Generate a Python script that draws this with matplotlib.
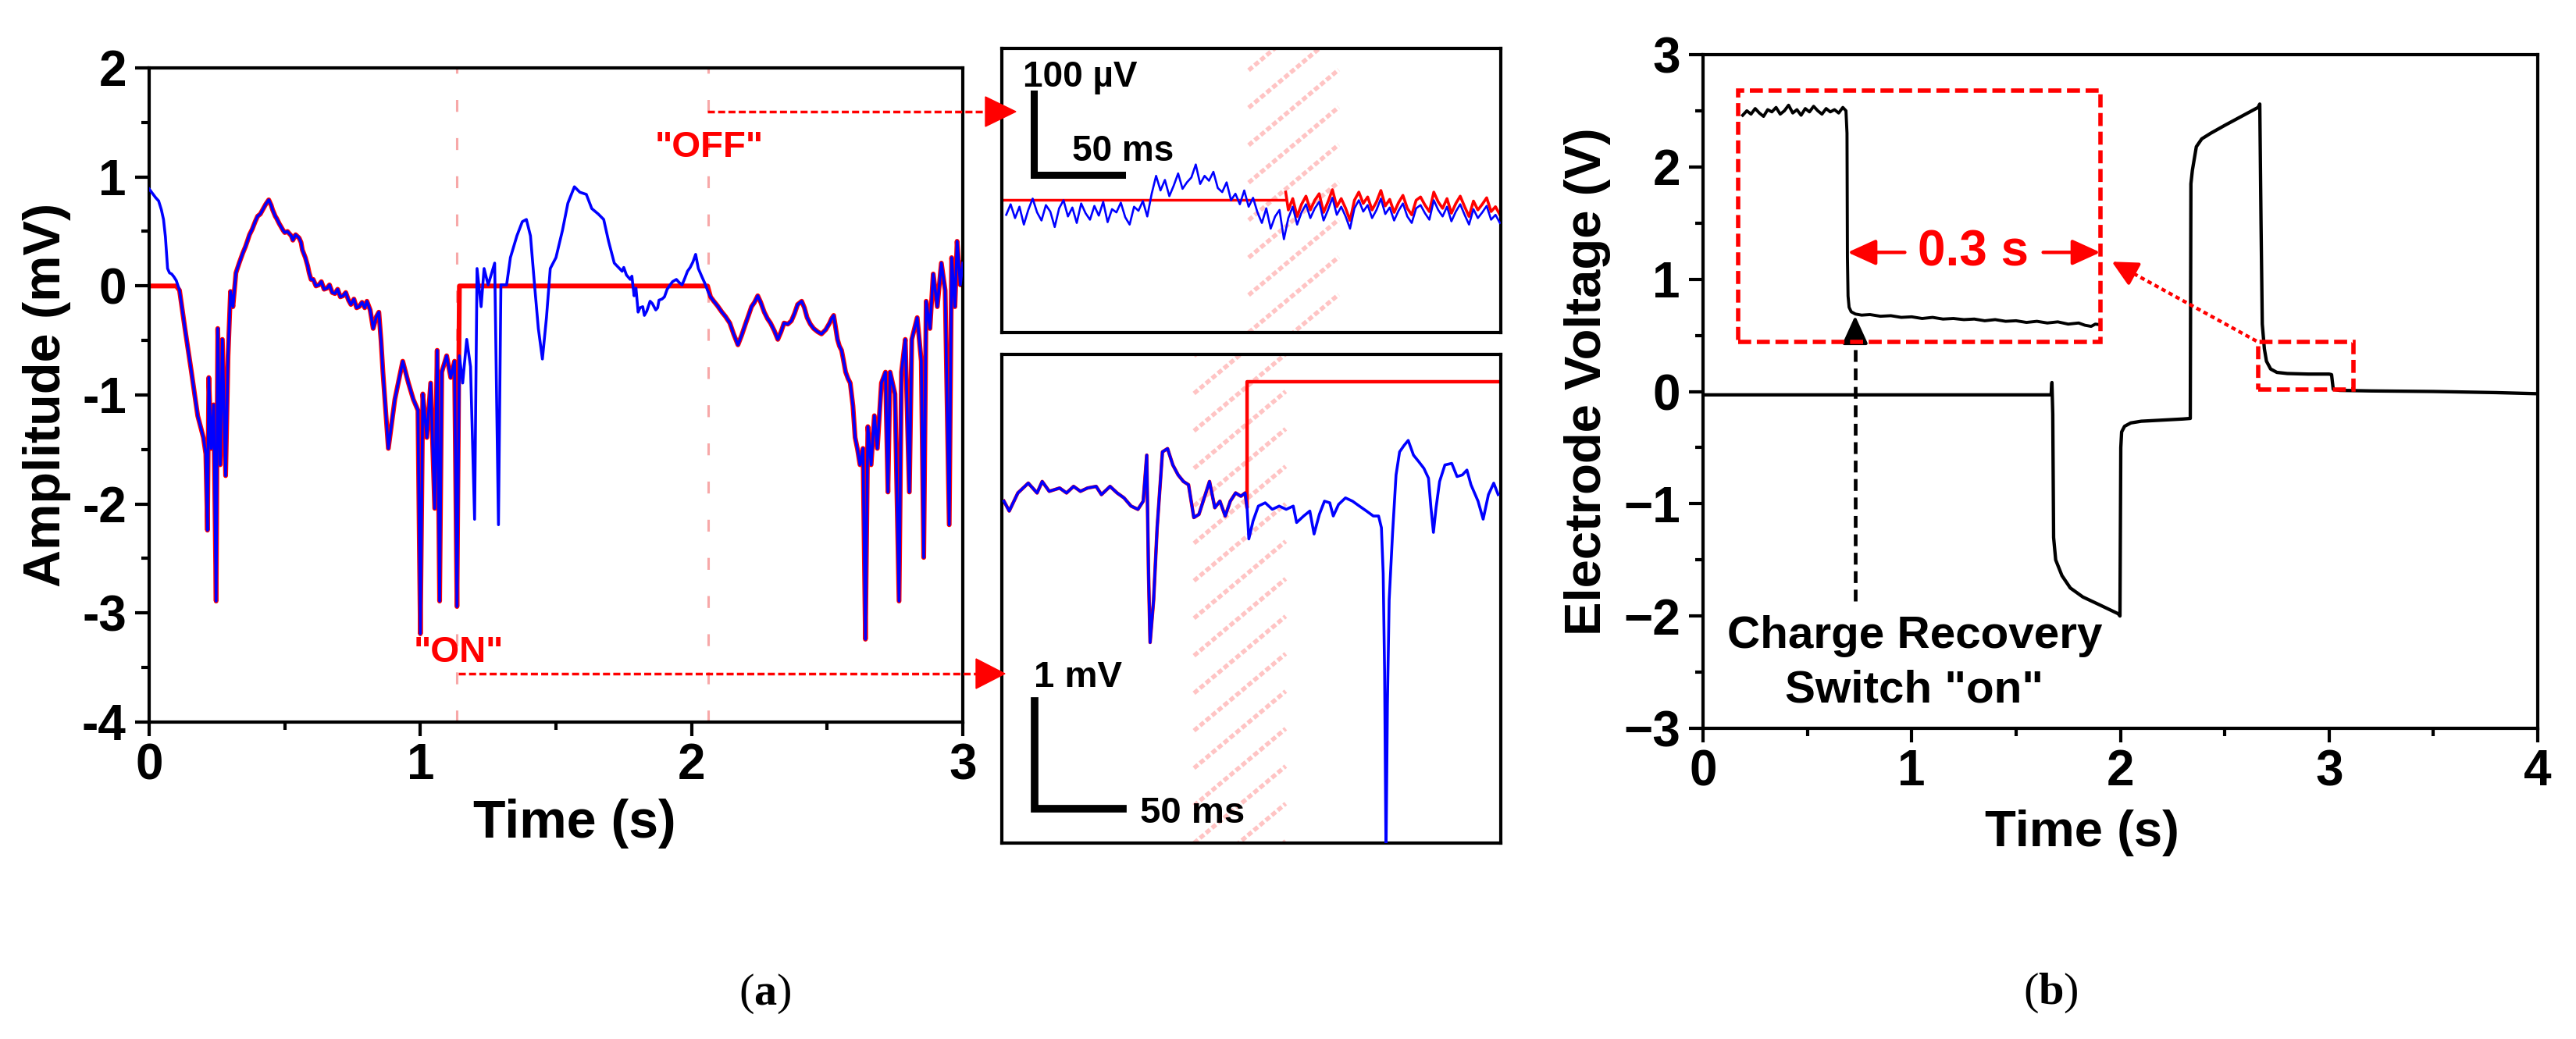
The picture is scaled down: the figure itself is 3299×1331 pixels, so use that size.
import numpy as np
import matplotlib
matplotlib.use("Agg")
import matplotlib.pyplot as plt
from matplotlib.lines import Line2D
from matplotlib.patches import Polygon, Rectangle
from matplotlib.ticker import MultipleLocator

plt.rcParams['font.family'] = ['Liberation Sans', 'DejaVu Sans']
plt.rcParams['font.weight'] = 'bold'
plt.rcParams['axes.unicode_minus'] = False
plt.rcParams['mathtext.fontset'] = 'custom'
plt.rcParams['mathtext.rm'] = 'Liberation Serif'
plt.rcParams['mathtext.bf'] = 'Liberation Serif:bold'

#%% data, panel (a) main trace (s, mV)
a_t = [0.0, 0.024, 0.053, 0.068, 0.091, 0.112, 0.132, 0.156, 0.179, 0.2,
       0.209, 0.215, 0.22, 0.229, 0.238, 0.247, 0.253, 0.262, 0.27, 0.282,
       0.291, 0.309, 0.332, 0.362, 0.391, 0.421, 0.441, 0.465, 0.494, 0.524,
       0.553, 0.576, 0.597, 0.626, 0.656, 0.685, 0.715, 0.744, 0.774, 0.803,
       0.826, 0.847, 0.862, 0.882, 0.906, 0.935, 0.956, 0.974, 0.991, 1.0,
       1.009, 1.024, 1.038, 1.053, 1.062, 1.071, 1.079, 1.097, 1.112, 1.126,
       1.135, 1.144, 1.156, 1.171, 1.185, 1.2, 1.209, 1.224, 1.235, 1.25,
       1.274, 1.288, 1.297, 1.318, 1.332, 1.356, 1.376, 1.391, 1.406, 1.421,
       1.435, 1.45, 1.465, 1.479, 1.5, 1.524, 1.544, 1.568, 1.588, 1.612,
       1.632, 1.656, 1.676, 1.694, 1.715, 1.744, 1.774, 1.788, 1.803, 1.826,
       1.847, 1.868, 1.891, 1.921, 1.944, 1.965, 1.985, 2.015, 2.038, 2.059,
       2.082, 2.112, 2.141, 2.171, 2.2, 2.221, 2.244, 2.268, 2.291, 2.318,
       2.341, 2.368, 2.391, 2.406, 2.426, 2.45, 2.479, 2.509, 2.524, 2.538,
       2.553, 2.568, 2.585, 2.603, 2.621, 2.632, 2.641, 2.65, 2.662, 2.674,
       2.685, 2.7, 2.715, 2.724, 2.732, 2.75, 2.765, 2.774, 2.788, 2.803,
       2.812, 2.832, 2.847, 2.856, 2.865, 2.879, 2.891, 2.906, 2.921, 2.935,
       2.95, 2.959, 2.971, 2.979, 2.991, 3.0]
a_v = [0.89, 0.81, 0.61, 0.16, 0.085, -0.04, -0.39, -0.79, -1.19, -1.39,
       -1.54, -2.24, -0.84, -1.49, -1.09, -2.89, -0.39, -1.64, -0.49, -1.74,
       -0.64, -0.19, 0.21, 0.41, 0.59, 0.71, 0.79, 0.64, 0.51, 0.46,
       0.44, 0.26, 0.06, 0.01, -0.02, -0.07, -0.09, -0.17, -0.19, -0.14,
       -0.39, -0.24, -0.79, -1.49, -1.04, -0.69, -0.89, -1.04, -1.14, -3.19,
       -0.99, -1.39, -0.89, -2.04, -0.59, -2.89, -0.79, -0.64, -0.84, -0.69,
       -2.94, -0.64, -0.89, -0.49, -0.74, -2.14, 0.16, -0.19, 0.16, 0.01,
       0.21, -2.19, 0.01, 0.01, 0.26, 0.46, 0.59, 0.61, 0.46, 0.01,
       -0.39, -0.67, -0.29, 0.16, 0.26, 0.51, 0.76, 0.91, 0.86, 0.84,
       0.71, 0.66, 0.61, 0.41, 0.21, 0.135, 0.06, -0.09, -0.24, -0.27,
       -0.14, -0.22, -0.12, 0.01, 0.06, 0.01, 0.135, 0.29, 0.085, -0.04,
       -0.14, -0.24, -0.34, -0.54, -0.34, -0.19, -0.09, -0.24, -0.34, -0.49,
       -0.34, -0.32, -0.17, -0.14, -0.29, -0.39, -0.44, -0.34, -0.27, -0.49,
       -0.59, -0.79, -0.89, -1.39, -1.64, -1.49, -3.24, -1.29, -1.64, -1.19,
       -1.49, -0.89, -0.79, -1.89, -0.79, -0.99, -2.89, -0.79, -0.49, -1.89,
       -0.49, -0.29, -0.69, -2.49, -0.14, -0.39, 0.11, -0.19, 0.21, -0.04,
       -2.19, 0.26, -0.19, 0.41, 0.01, 0.21]
# extra wiggles read between the points above
a_t_fine = [0.035, 0.045, 0.06, 0.075, 0.083, 0.1,
            0.30, 0.32, 0.345, 0.355, 0.37, 0.38, 0.40, 0.41, 0.43, 0.45, 0.455,
            0.47, 0.48, 0.50, 0.51, 0.53, 0.54, 0.56, 0.565, 0.585, 0.59, 0.605,
            0.615, 0.635, 0.645, 0.665, 0.675, 0.695, 0.705, 0.725, 0.735, 0.755,
            0.765, 0.785, 0.795, 0.815, 0.838, 0.855,
            1.75, 1.76, 1.78, 1.795, 1.81, 1.82, 1.835, 1.855, 1.875, 1.88, 1.9,
            1.91, 1.93, 1.955, 1.975, 1.995, 2.005, 2.025, 2.048, 2.07, 2.095,
            2.125, 2.155, 2.185, 2.21, 2.232, 2.255, 2.28, 2.305, 2.33, 2.355,
            2.38, 2.416, 2.438, 2.465, 2.495, 2.516, 2.545, 2.56, 2.577, 2.595,
            2.612]
a_v_fine = [0.78, 0.70, 0.45, 0.12, 0.11, 0.05,
            -0.05, 0.12, 0.30, 0.36, 0.47, 0.52, 0.64, 0.66, 0.75, 0.74, 0.70,
            0.62, 0.57, 0.49, 0.50, 0.42, 0.47, 0.40, 0.33, 0.18, 0.12, 0.06,
            0.0, 0.04, -0.03, 0.01, -0.06, -0.03, -0.1, -0.06, -0.13, -0.12,
            -0.2, -0.15, -0.2, -0.22, -0.28, -0.5,
            0.17, 0.10, 0.09, -0.02, -0.2, -0.19, -0.23, -0.16, -0.2, -0.13, -0.1,
            -0.03, 0.04, 0.03, 0.07, 0.17, 0.22, 0.16, 0.03, -0.1, -0.18,
            -0.28, -0.44, -0.45, -0.27, -0.15, -0.15, -0.3, -0.41, -0.42, -0.35,
            -0.25, -0.2, -0.35, -0.42, -0.4, -0.3, -0.55, -0.68, -0.85, -1.1,
            -1.5]
blank_start = 0.112   # red trace held at 0 before this
switch_on = 1.135     # "ON"
switch_off = 2.06     # "OFF"

# top inset (ms, uV), sampled every 2.5 ms
top_ms = np.arange(1, 114) * 2.5
top_uv = [-18, -5, -22, -8, -30, -12, 2, -15, -25, -6, -14, -33, -10, 0, -20, -9,
          -28, -4, -16, -24, -7, -19, -2, -27, -11, -15, -3, -21, -30, -8, -13, -1, -20,
          8, 30, 12, 25, 5, 18, 33, 14, 22, 28, 44, 20, 30, 24, 35, 15,
          10, 22, 0, 8, -5, 12, -8, 3,
          -15, -28, -10, -35, -20, -12, -48, -22,
          -8, -30, -15, -5, -22, -10, -2, -25, -12, 3, -18, -8, -20, -35, -10, 0,
          -14, -6, -22, -12, 2, -17, -9, -25, -13, -4, -20, -28, -10, -6, -16, -24,
          0, -12, -20, -8, -26, -14, -5, -18, -30, -11, -22, -15, -7, -24, -18, -28]
top_red_on = 161.0
top_hatch = (140, 191)

# bottom inset (ms, mV)
bot_ms = [1.2, 4.2, 9.1, 15.0, 20.0, 22.9, 26.9, 32.8, 36.7, 40.7, 44.6, 48.6, 53.5,
          56.5, 61.4, 65.4, 69.3, 73.3, 77.2, 80.2, 82.2, 83.2, 84.1, 86.1, 88.1,
          91.1, 94.0, 97.0, 100.0, 103.0, 105.9, 108.9, 111.8, 114.8, 117.8, 120.8,
          123.7, 126.7, 129.6, 132.6, 135.6, 138.0, 139.1, 140.1, 142.5, 145.5,
          149.4, 153.4, 157.3, 161.3, 165.3, 167.2, 171.2, 174.7, 177.1, 180.1,
          183.0, 186.0, 188.0, 191.0, 194.9, 198.9, 202.8, 206.8, 210.7, 213.7,
          215.3, 216.3, 217.1, 217.9, 218.7, 219.7, 221.6, 223.6, 225.6, 228.2,
          230.5, 233.5, 236.5, 239.4, 242.0, 243.4, 244.8, 246.3, 248.3, 251.3,
          255.2, 258.2, 261.2, 263.8, 266.1, 270.1, 273.0, 276.0, 279.0, 281.5]
bot_mv = [-0.057, -0.147, 0.018, 0.108, 0.018, 0.123, 0.033, 0.063, 0.018, 0.078,
          0.033, 0.063, 0.078, 0.003, 0.078, 0.018, -0.027, -0.102, -0.132, -0.057,
          0.364, -0.718, -1.35, -0.96, -0.30, 0.394, 0.424, 0.274, 0.183, 0.123,
          0.093, -0.207, -0.178, -0.027, 0.123, -0.117, -0.057, -0.193, -0.057,
          0.018, -0.012, 0.018, -0.117, -0.403, -0.238, -0.102, -0.072, -0.132,
          -0.102, -0.132, -0.102, -0.253, -0.193, -0.147, -0.358, -0.178, -0.057,
          -0.072, -0.193, -0.087, -0.027, -0.057, -0.102, -0.147, -0.193, -0.193,
          -0.30, -0.718, -1.62, -3.3, -1.92, -0.96, -0.358, 0.183, 0.394, 0.454,
          0.499, 0.364, 0.304, 0.243, 0.153, -0.117, -0.343, -0.117, 0.123, 0.274,
          0.289, 0.168, 0.183, 0.228, 0.093, -0.057, -0.222, 0.003, 0.108, 0.003]
bot_red_step = 139.1
bot_red_level = 1.036
bot_hatch = (109, 161)

#%% data, panel (b) electrode voltage (s, V)
b_t = [0.0, 1.668, 1.672, 1.676, 1.68, 1.69, 1.72, 1.76, 1.82, 1.9, 1.99, 1.998,
       2.002, 2.006, 2.02, 2.05, 2.1, 2.2, 2.3, 2.335, 2.338, 2.345, 2.364, 2.39,
       2.433, 2.5, 2.58, 2.66, 2.668, 2.674, 2.68, 2.69, 2.7, 2.72, 2.75, 2.8,
       2.9, 3.0, 3.012, 3.02, 3.05, 3.2, 3.5, 3.8, 4.0]
b_v = [-0.03, -0.03, 0.08, -0.2, -1.3, -1.5, -1.64, -1.75, -1.83, -1.9, -1.98, -2.0,
       -0.5, -0.36, -0.31, -0.28, -0.265, -0.255, -0.245, -0.24, 1.85, 1.97, 2.18, 2.25,
       2.3, 2.37, 2.45, 2.53, 2.56, 1.5, 0.6, 0.38, 0.27, 0.2, 0.17, 0.16,
       0.155, 0.155, 0.15, 0.02, 0.01, 0.005, 0.0, -0.01, -0.02]
# magnified view drawn inside panel (b)
mag_t = [0.19, 0.21, 0.23, 0.25, 0.27, 0.29, 0.31, 0.33, 0.35, 0.37, 0.39, 0.41, 0.43,
         0.45, 0.47, 0.49, 0.51, 0.53, 0.55, 0.57, 0.59, 0.61, 0.63, 0.65, 0.67, 0.685,
         0.69, 0.692, 0.695, 0.70, 0.71, 0.73, 0.76, 0.8, 0.85, 0.9, 0.95, 1.0, 1.05,
         1.1, 1.15, 1.2, 1.25, 1.3, 1.35, 1.4, 1.45, 1.5, 1.55, 1.6, 1.65, 1.7, 1.75,
         1.8, 1.83, 1.86, 1.88, 1.9]
mag_v = [2.46, 2.5, 2.47, 2.52, 2.48, 2.45, 2.51, 2.49, 2.53, 2.47, 2.5, 2.55, 2.48,
         2.51, 2.46, 2.52, 2.49, 2.54, 2.5, 2.47, 2.52, 2.49, 2.51, 2.48, 2.53, 2.5,
         2.3, 1.2, 0.85, 0.75, 0.71, 0.69, 0.68, 0.685, 0.67, 0.675, 0.66, 0.665, 0.65,
         0.66, 0.645, 0.65, 0.64, 0.645, 0.63, 0.64, 0.625, 0.63, 0.615, 0.625, 0.61,
         0.62, 0.6, 0.61, 0.59, 0.58, 0.6, 0.595]
b_yticks = [-3, -2, -1, 0, 1, 2, 3]
b_yticklabels = ['\u22123', '\u22122', '\u22121', '0', '1', '2', '3']

#%% layout helpers (pixel coords of the 3299 x 1331 canvas)
W, H = 3299, 1331
RED = '#ff0000'
BLUE = '#0000ff'
PINK = '#f7a8a8'


def box(l, t, r, b):
    return [l / W, 1 - b / H, (r - l) / W, (b - t) / H]


def fp(x, y):
    return (x / W, 1 - y / H)


def style_axes(ax):
    for s in ax.spines.values():
        s.set_linewidth(3)
    ax.tick_params(which='major', direction='out', length=13, width=3,
                   labelsize=46, top=False, right=False)
    ax.tick_params(which='minor', direction='out', length=7, width=3,
                   top=False, right=False)
    ax.tick_params(axis='x', pad=6)
    ax.tick_params(axis='y', pad=8)


def hatch(ax, x0, x1, w_px, h_px):
    # pink diagonal band, lines in pixel units of the inset
    xl = ax.get_xlim()
    p0 = (x0 - xl[0]) / (xl[1] - xl[0]) * w_px
    p1 = (x1 - xl[0]) / (xl[1] - xl[0]) * w_px
    rise = (p1 - p0) * np.tan(np.radians(40))
    for k in range(-6, int(h_px / 48) + 2):
        y0 = k * 48
        ax.plot([p0 / w_px, p1 / w_px], [y0 / h_px, (y0 + rise) / h_px],
                transform=ax.transAxes, color='#ffc4c4', lw=4,
                dashes=(1.2, 0.6), clip_on=True, zorder=0.5)


def red_arrow(x_start, x_base, x_tip, y):
    fig.add_artist(Line2D([x_start / W, x_base / W], [1 - y / H, 1 - y / H],
                          transform=fig.transFigure, color=RED, lw=2.5,
                          dashes=(2.6, 1.2)))
    fig.add_artist(Polygon([fp(x_base, y - 19), fp(x_base, y + 19), fp(x_tip, y)],
                           closed=True, color=RED, transform=fig.transFigure))


fig = plt.figure(figsize=(W / 100, H / 100), dpi=100)

#%% panel (a) main
ax = fig.add_axes(box(191, 87, 1233, 925))
t = np.r_[a_t, a_t_fine]
v = np.r_[a_v, a_v_fine]
order = np.argsort(t, kind='stable')
t, v = t[order], v[order]
blank = (t < blank_start) | ((t > switch_on) & (t < switch_off))
red_v = np.where(blank, 0.0, v)
ax.plot(t, red_v, color=RED, lw=4.4, zorder=2)
ax.plot(t, v, color=BLUE, lw=2.6, zorder=3)
for xs in (switch_on, switch_off):
    ax.axvline(xs, color=PINK, lw=2.2, dashes=(5, 11), zorder=1)
ax.set_xlim(0, 3)
ax.set_ylim(-4, 2)
ax.xaxis.set_major_locator(MultipleLocator(1))
ax.xaxis.set_minor_locator(MultipleLocator(0.5))
ax.yaxis.set_major_locator(MultipleLocator(1))
ax.yaxis.set_minor_locator(MultipleLocator(0.5))
style_axes(ax)
ax.text(2.065, 1.27, '"OFF"', color=RED, fontsize=34, ha='center', va='center')
ax.text(1.14, -3.36, '"ON"', color=RED, fontsize=34, ha='center', va='center')
fig.text(*fp(60, 506), 'Amplitude (mV)', rotation=90, fontsize=48,
         ha='center', va='center')
fig.text(*fp(736, 1055), 'Time (s)', fontsize=49, ha='center', va='center')

red_arrow(906, 1262, 1301, 143)
red_arrow(587, 1250, 1287, 863)

#%% top inset (OFF)
axt = fig.add_axes(box(1283, 62, 1922, 426))
axt.set_xlim(0, 283)
axt.set_ylim(-163, 187)
hatch(axt, top_hatch[0], top_hatch[1], 639, 364)
top_uv_arr = np.array(top_uv, dtype=float)
on = top_ms >= top_red_on
axt.plot([0, top_red_on], [0, 0], color=RED, lw=2.5, zorder=2)
axt.plot(np.r_[top_red_on, top_ms[on]], np.r_[0, top_uv_arr[on]] + 10,
         color=RED, lw=2.6, zorder=2)
axt.plot(top_ms, top_uv_arr, color=BLUE, lw=1.9, zorder=3)
axt.plot([18.1, 18.1, 68.1], [131.7, 31.7, 31.7], color='black', lw=6.5,
         solid_capstyle='projecting', solid_joinstyle='miter', zorder=4)
axt.text(11.9, 140, '100 µV', fontsize=33, ha='left', va='baseline')
axt.text(39.8, 49, '50 ms', fontsize=33, ha='left', va='baseline')
axt.set_xticks([])
axt.set_yticks([])
for s in axt.spines.values():
    s.set_linewidth(3)

#%% bottom inset (ON)
axb = fig.add_axes(box(1283, 454, 1922, 1080))
axb.set_xlim(0, 283)
axb.set_ylim(-3.186, 1.286)
hatch(axb, bot_hatch[0], bot_hatch[1], 639, 626)
bm = np.array(bot_ms)
bv = np.array(bot_mv)
pre = bm <= bot_red_step
axb.plot(np.r_[bm[pre], bot_red_step, 283], np.r_[bv[pre], bot_red_level, bot_red_level],
         color=RED, lw=3.2, zorder=2)
axb.plot(bm, bv, color=BLUE, lw=2.6, zorder=3)
axb.plot([18.6, 18.6, 68.6], [-1.886, -2.87, -2.87], color='black', lw=7,
         solid_capstyle='projecting', solid_joinstyle='miter', zorder=4)
axb.text(18.1, -1.757, '1 mV', fontsize=34, ha='left', va='baseline')
axb.text(78.3, -3.0, '50 ms', fontsize=34, ha='left', va='baseline')
axb.set_xticks([])
axb.set_yticks([])
for s in axb.spines.values():
    s.set_linewidth(3)

#%% panel (b)
bx = fig.add_axes(box(2181, 70, 3250, 933))
bx.plot(b_t, b_v, color='black', lw=3.1)
bx.plot(mag_t, mag_v, color='black', lw=2.8)
bx.set_xlim(0, 4)
bx.set_ylim(-3, 3)
bx.xaxis.set_major_locator(MultipleLocator(1))
bx.xaxis.set_minor_locator(MultipleLocator(0.5))
bx.set_yticks(b_yticks, b_yticklabels)
bx.yaxis.set_minor_locator(MultipleLocator(0.5))
style_axes(bx)

rect_ls = (0, (3, 1.3))
bx.add_patch(Rectangle((0.167, 0.44), 1.904 - 0.167, 2.68 - 0.44, fill=False,
                       edgecolor=RED, lw=4, linestyle=rect_ls, zorder=4))
bx.add_patch(Rectangle((2.66, 0.02), 3.118 - 2.66, 0.44 - 0.02, fill=False,
                       edgecolor=RED, lw=4, linestyle=rect_ls, zorder=4))

# dotted pointer from small box to magnified box
bx.plot([2.652, 2.041], [0.449, 1.073], color=RED, lw=3.2, dashes=(1.3, 1.0))
bx.annotate('', xy=(1.959, 1.156), xytext=(2.041, 1.073),
            arrowprops=dict(arrowstyle='-|>,head_length=0.9,head_width=0.45',
                            color=RED, lw=3, mutation_scale=22,
                            shrinkA=0, shrinkB=0))

# 0.3 s span
for x_from, x_to in ((0.967, 0.693), (1.63, 1.904)):
    bx.annotate('', xy=(x_to, 1.239), xytext=(x_from, 1.239),
                arrowprops=dict(arrowstyle='-|>,head_length=1.1,head_width=0.5',
                                color=RED, lw=3.2, mutation_scale=20,
                                shrinkA=0, shrinkB=0))
bx.text(1.296, 1.239, '0.3 s', color=RED, fontsize=46, ha='center', va='center')

# charge recovery switch arrow
bx.plot([0.729, 0.729], [-1.87, 0.5], color='black', lw=3.4, dashes=(3.2, 1.8))
bx.annotate('', xy=(0.729, 0.675), xytext=(0.729, 0.47),
            arrowprops=dict(arrowstyle='-|>,head_length=1.1,head_width=0.5',
                            color='black', lw=3, mutation_scale=20,
                            shrinkA=0, shrinkB=0))
bx.text(1.014, -2.18, 'Charge Recovery', fontsize=42, ha='center', va='center')
bx.text(1.014, -2.66, 'Switch "on"', fontsize=42, ha='center', va='center')

fig.text(*fp(2033, 489), 'Electrode Voltage (V)', rotation=90, fontsize=47,
         ha='center', va='center')
fig.text(*fp(2666, 1067), 'Time (s)', fontsize=47, ha='center', va='center')

#%% sub-figure captions
fig.text(*fp(980, 1273), r'($\mathbf{a}$)', family='Liberation Serif',
         fontweight='normal', fontsize=42, ha='center', va='center')
fig.text(*fp(2626, 1272), r'($\mathbf{b}$)', family='Liberation Serif',
         fontweight='normal', fontsize=42, ha='center', va='center')

fig.savefig('out.png', dpi=100)
